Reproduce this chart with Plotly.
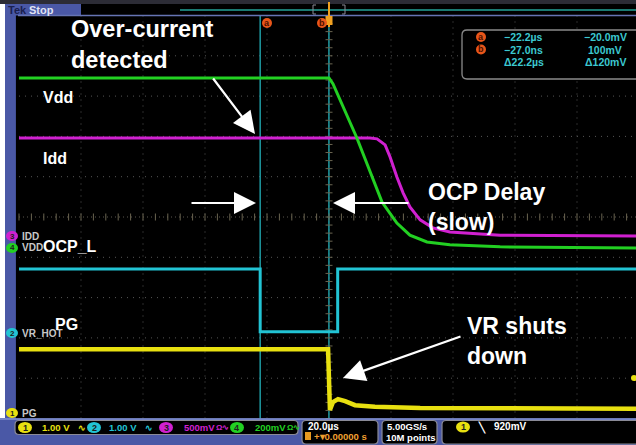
import plotly.graph_objects as go

W, H = 636, 445

# ---------------- data (time in µs, amplitude in divisions) ----------------
vdd_t = [-100, 0, 1.3, 9.0, 17.1, 21.9, 26.1, 31.6, 39.0, 55.2, 100]
vdd_v = [3.45, 3.45, 3.30, 1.96, 0.37, -0.15, -0.45, -0.62, -0.69, -0.74, -0.77]

idd_t = [-100, 13.2, 15.5, 18.1, 19.7, 21.9, 23.9, 26.1, 29.4, 33.5, 39.0, 55.2, 100]
idd_v = [1.96, 1.96, 1.94, 1.79, 1.49, 0.99, 0.60, 0.25, -0.07, -0.27, -0.37, -0.45, -0.47]

ocp_t = [-100, -22.2, -22.2, 2.8, 2.8, 100]
ocp_v = [-1.29, -1.29, -2.85, -2.85, -1.29, -1.29]

pg_t = [-100, -0.3, 0.3, 1.3, 2.9, 5.2, 8.4, 14.8, 29.4, 100]
pg_v = [-3.28, -3.28, -4.79, -4.59, -4.52, -4.57, -4.67, -4.71, -4.74, -4.76]

cursor_a = -22.2     # µs
cursor_b = -0.027    # µs

readout = [("−22.2µs", "−20.0mV"), ("−27.0ns", "100mV"), ("Δ22.2µs", "Δ120mV")]

# ---------------- styling helpers ----------------
GREEN, MAGENTA, CYAN, YELLOW = "#22d022", "#d020d0", "#22c4d4", "#e8e010"
ORANGE = "#e8561a"
BLUE = "#4a58a6"
FONT = "Liberation Sans, Arial, sans-serif"


def X(px):
    return px / W


def Y(py):
    return 1 - py / H


def rrect(x0, y0, x1, y1, r, fill="black", line="#8a8a96", lw=1.2):
    p = (f"M {X(x0 + r)},{Y(y0)} L {X(x1 - r)},{Y(y0)} Q {X(x1)},{Y(y0)} {X(x1)},{Y(y0 + r)} "
         f"L {X(x1)},{Y(y1 - r)} Q {X(x1)},{Y(y1)} {X(x1 - r)},{Y(y1)} "
         f"L {X(x0 + r)},{Y(y1)} Q {X(x0)},{Y(y1)} {X(x0)},{Y(y1 - r)} "
         f"L {X(x0)},{Y(y0 + r)} Q {X(x0)},{Y(y0)} {X(x0 + r)},{Y(y0)} Z")
    return dict(type="path", xref="paper", yref="paper", path=p, fillcolor=fill,
                line=dict(color=line, width=lw), layer="above")


def prect(x0, y0, x1, y1, fill, layer="above"):
    return dict(type="rect", xref="paper", yref="paper", x0=X(x0), x1=X(x1), y0=Y(y1), y1=Y(y0),
                fillcolor=fill, line=dict(width=0), layer=layer)


def pcircle(cx, cy, rx, ry, fill):
    return dict(type="circle", xref="paper", yref="paper", x0=X(cx - rx), x1=X(cx + rx),
                y0=Y(cy + ry), y1=Y(cy - ry), fillcolor=fill, line=dict(width=0), layer="above")


def txt(s, px, py, size, color="white", anchor="left", bold=True, family=FONT):
    return dict(text=s, x=X(px), y=Y(py), xref="paper", yref="paper", xanchor=anchor,
                yanchor="middle", showarrow=False, align="left",
                font=dict(family=family, size=size, color=color,
                          weight="bold" if bold else "normal"))


def arrow(hx, hy, tx, ty):
    return dict(text="", x=X(hx), y=Y(hy), xref="paper", yref="paper",
                ax=tx - hx, ay=ty - hy, axref="pixel", ayref="pixel", showarrow=True,
                arrowhead=2, arrowsize=2.0, arrowwidth=2.2, arrowcolor="white", standoff=0)


fig = go.Figure()

# ---------------- graticule ----------------
shapes = []
shapes.append(dict(type="rect", x0=-101, x1=101, y0=-5, y1=5, fillcolor="black",
                   line=dict(width=0), layer="below"))
for t in range(-80, 100, 20):
    if t == 0:
        continue
    shapes.append(dict(type="line", x0=t, x1=t, y0=-5, y1=5, layer="below",
                       line=dict(color="#555555", width=1, dash="1px,5px")))
for v in range(-4, 5):
    if v == 0:
        continue
    shapes.append(dict(type="line", x0=-100, x1=100, y0=v, y1=v, layer="below",
                       line=dict(color="#555555", width=1, dash="1px,5px")))
shapes.append(dict(type="line", x0=0, x1=0, y0=-5, y1=5, layer="below",
                   line=dict(color="#5a574e", width=1, dash="1px,3px")))
shapes.append(dict(type="line", x0=-100, x1=100, y0=0, y1=0, layer="below",
                   line=dict(color="#5a574e", width=1, dash="1px,3px")))

# minor ticks on the centre crosshair
tick_t = [i * 4 for i in range(-25, 26)]
tick_v = [i * 0.2 for i in range(-25, 26)]
fig.add_trace(go.Scatter(x=tick_t, y=[0] * len(tick_t), mode="markers", hoverinfo="skip",
                         marker=dict(symbol="line-ns", size=5, line=dict(color="#6a6450", width=1))))
fig.add_trace(go.Scatter(x=[0] * len(tick_v), y=tick_v, mode="markers", hoverinfo="skip",
                         marker=dict(symbol="line-ew", size=5, line=dict(color="#6a6450", width=1))))

# cursors
for c in (cursor_a, cursor_b):
    shapes.append(dict(type="line", x0=c, x1=c, y0=-5, y1=5, layer="below",
                       line=dict(color="#1f9aa2", width=1.5)))

# ---------------- waveforms ----------------
fig.add_trace(go.Scatter(x=ocp_t, y=ocp_v, mode="lines", line=dict(color=CYAN, width=3), hoverinfo="skip"))
fig.add_trace(go.Scatter(x=pg_t, y=pg_v, mode="lines", line=dict(color=YELLOW, width=4.5), hoverinfo="skip"))
fig.add_trace(go.Scatter(x=idd_t, y=idd_v, mode="lines", line=dict(color=MAGENTA, width=3), hoverinfo="skip"))
fig.add_trace(go.Scatter(x=vdd_t, y=vdd_v, mode="lines", line=dict(color=GREEN, width=3), hoverinfo="skip"))

# ---------------- screen chrome ----------------
ann = []
# white left margin and top bar
shapes.append(prect(0, 0, 5, 418, "white"))
shapes.append(prect(0, 0, 636, 4, "#2c2c36"))
shapes.append(prect(5, 4, 81, 15, BLUE))
shapes.append(prect(81, 4, 636, 15, "black"))
shapes.append(dict(type="line", xref="paper", yref="paper", x0=X(180), x1=X(636), y0=Y(10), y1=Y(10),
                   line=dict(color="#1a7a72", width=2), layer="above"))
shapes.append(dict(type="path", xref="paper", yref="paper",
                   path=f"M {X(316)},{Y(5)} L {X(313)},{Y(5)} L {X(313)},{Y(14)} L {X(316)},{Y(14)} "
                        f"M {X(342)},{Y(5)} L {X(345)},{Y(5)} L {X(345)},{Y(14)} L {X(342)},{Y(14)}",
                   line=dict(color="#8a8a96", width=1), layer="above"))
shapes.append(dict(type="line", xref="paper", yref="paper", x0=X(18), x1=X(636), y0=Y(15.5), y1=Y(15.5),
                   line=dict(color="#6674b4", width=1.5), layer="above"))
ann.append(txt("Tek", 6, 9.5, 11, color="#1a2050"))
ann.append(txt("Stop", 27, 9.5, 11, color="#e0e4f4"))

# trigger position marker and cursor tags
shapes.append(dict(type="line", xref="paper", yref="paper", x0=X(329), x1=X(329), y0=Y(2), y1=Y(27),
                   line=dict(color="#f0a020", width=2), layer="above"))
shapes.append(prect(325.5, 16, 332.5, 25, "#f0a020"))
for cx, letter in ((267, "a"), (322, "b")):
    shapes.append(pcircle(cx, 23, 5, 5, ORANGE))
    ann.append(txt(letter, cx, 22.5, 9, color="#4a1000", anchor="center"))

# cursor readout box
shapes.append(rrect(462, 30, 645, 79, 5, fill="black", line="#8a8a8a", lw=1.3))
for i, (left, right) in enumerate(readout):
    yy = 37 + i * 12.5
    if i < 2:
        shapes.append(pcircle(481, yy, 5, 5, ORANGE))
        ann.append(txt("ab"[i], 481, yy - 0.5, 9, color="#4a1000", anchor="center"))
    ann.append(txt(left, 502, yy, 10.5, color="#3cc8d0"))
    ann.append(txt(right, 605, yy, 10.5, color="#3cc8d0", anchor="center"))

# channel ground labels on the left
for py, num, col, label in ((236, "3", MAGENTA, "IDD"), (248, "4", GREEN, "VDD"),
                            (333, "2", CYAN, "VR_HOT"), (413, "1", YELLOW, "PG")):
    shapes.append(pcircle(12, py, 6, 5, col))
    ann.append(txt(num, 12, py, 8, color="#202020", anchor="center"))
    ann.append(txt(label, 20, py, 10, color="#c8c8c8"))

# trigger level marker
shapes.append(pcircle(634, 378, 3, 3, YELLOW))

# ---------------- status bar ----------------
shapes.append(dict(type="line", xref="paper", yref="paper", x0=X(0), x1=X(636), y0=Y(419), y1=Y(419),
                   line=dict(color="#8494d4", width=1.5), layer="above"))
shapes.append(rrect(15, 420.5, 298, 434.5, 4))
shapes.append(rrect(302, 420.5, 378, 444, 4))
shapes.append(rrect(382, 420.5, 437, 444, 4))
shapes.append(rrect(442, 420.5, 650, 444, 4))

for cx, num, col, label, lx, mod in ((25, "1", YELLOW, "1.00 V", 40, "ʰ"), (94, "2", CYAN, "1.00 V", 107, "ʰ"),
                                     (166, "3", MAGENTA, "500mV", 182, "Ω∿"), (237, "4", GREEN, "200mV", 253, "Ω∿")):
    shapes.append(pcircle(cx, 427.5, 7, 5.5, col))
    ann.append(txt(num, cx, 427.5, 9, color="#202020", anchor="center"))
    ann.append(txt(label, lx, 427.5, 9.5, color=col))
    if mod == "ʰ":
        ann.append(txt("∿", lx + 36, 427.5, 9, color=col))
    else:
        ann.append(txt(mod, lx + 32, 427.5, 8, color=col))

ann.append(txt("20.0µs", 306, 426, 10, color="white"))
shapes.append(prect(305, 432, 311, 440, "#e89a20"))
ann.append(txt("+▾0.00000 s", 312, 436.5, 9.5, color="#f0a030"))
ann.append(txt("5.00GS/s", 385, 426, 9.5, color="white"))
ann.append(txt("10M points", 384, 437, 9.5, color="white"))
shapes.append(pcircle(463, 427, 7, 5.5, YELLOW))
ann.append(txt("1", 463, 427, 9, color="#202020", anchor="center"))
ann.append(txt("╲", 476, 427, 10, color="white"))
ann.append(txt("920mV", 492, 426.5, 10, color="white"))

# ---------------- overlay annotations ----------------
ann.append(txt("Over-current<br>detected", 69, 44, 23.5))
ann.append(txt("Vdd", 41, 97, 16))
ann.append(txt("Idd", 41, 158, 16))
ann.append(txt("OCP_L", 41, 246, 16))
ann.append(txt("PG", 53, 324, 16))
ann.append(txt("OCP Delay<br>(slow)", 426, 207, 23))
ann.append(txt("VR shuts<br>down", 465, 341, 23))

ann.append(arrow(255, 134, 212, 77))
ann.append(arrow(256, 203, 190, 203))
ann.append(arrow(333, 203, 410, 203))
ann.append(arrow(343, 378, 462, 336))

x0 = (0 - 329) / 3.1
x1 = (636 - 329) / 3.1
y_top = (217 - 0) / 40.3
y_bot = (217 - 445) / 40.3

fig.update_layout(
    width=W, height=H, autosize=False,
    margin=dict(l=0, r=0, t=0, b=0, pad=0),
    paper_bgcolor=BLUE, plot_bgcolor=BLUE,
    showlegend=False,
    xaxis=dict(range=[x0, x1], visible=False, fixedrange=True),
    yaxis=dict(range=[y_bot, y_top], visible=False, fixedrange=True),
    shapes=shapes, annotations=ann,
)

fig.write_html("out.html", config={"displayModeBar": False},
               post_script="document.body.style.margin='0';document.body.style.padding='0';"
                           "document.body.style.overflow='hidden';")
